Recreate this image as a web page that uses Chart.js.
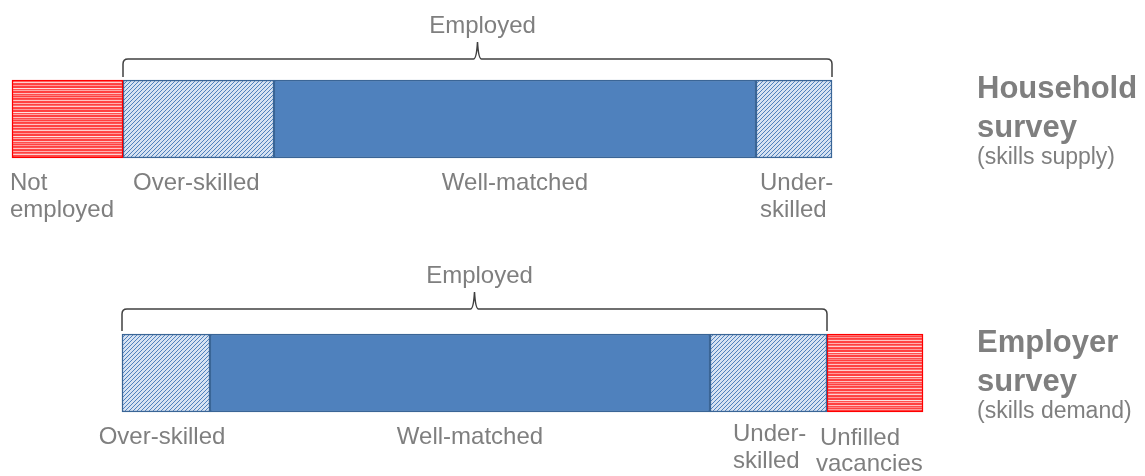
<!DOCTYPE html>
<html>
<head>
<meta charset="utf-8">
<script src="https://cdn.jsdelivr.net/npm/chart.js@4"></script>
<style>
  html, body { margin: 0; padding: 0; background: #fff; }
  #wrap { width: 1145px; height: 476px; position: relative; }
</style>
</head>
<body>
<div id="wrap"><canvas id="skills-chart"></canvas></div>
<script>
// rows of the diagram
const surveys = ["Household survey", "Employer survey"];
const surveyTitles = [["Household", "survey"], ["Employer", "survey"]];
const surveySubtitles = ["(skills supply)", "(skills demand)"];

// segment widths (same units for both bars)
const leadGap = [null, 110];
const notEmployed = [111, null];
const overSkilled = [151, 88];
const wellMatched = [482, 500];
const underSkilled = [76, 117];
const unfilledVacancies = [null, 96];

const GREY = "#7f7f7f";
const BLUE = "#4f81bd";
const BLUE_EDGE = "#3a6596";
const RED_EDGE = "#ff0000";

function hatchPattern() {
  const c = document.createElement("canvas");
  c.width = 4;
  c.height = 4;
  const g = c.getContext("2d");
  g.fillStyle = "#d6e2f2";
  g.fillRect(0, 0, 4, 4);
  g.strokeStyle = "#4f81bd";
  g.lineWidth = 1;
  g.beginPath();
  g.moveTo(-1, 5); g.lineTo(5, -1);
  g.moveTo(-1, 1); g.lineTo(1, -1);
  g.moveTo(3, 5); g.lineTo(5, 3);
  g.stroke();
  return g.createPattern(c, "repeat");
}

function stripePattern() {
  // uneven horizontal red / pink lines
  const rows = ["#ff4040", "#ff9a9a", "#ff4040", "#ff5050", "#ffc4c4", "#ff4444", "#ff4040", "#ffb0b0",
                "#ff4040", "#ff6a6a", "#ffd0d0", "#ff4848", "#ff4040", "#ff9a9a", "#ff4040", "#ff4040",
                "#ffe0e0", "#ff5050", "#ffa8a8", "#ff4040", "#ff4040", "#ffc0c0", "#ff4c4c", "#ff8080"];
  const c = document.createElement("canvas");
  c.width = 4;
  c.height = rows.length;
  const g = c.getContext("2d");
  rows.forEach((col, i) => {
    g.fillStyle = col;
    g.fillRect(0, i, 4, 1);
  });
  return g.createPattern(c, "repeat");
}

const hatch = hatchPattern();
const stripes = stripePattern();

function seg(label, data, fill, edge) {
  return {
    label: label,
    data: data,
    backgroundColor: fill,
    borderColor: edge,
    borderWidth: edge ? 1.5 : 0,
    borderSkipped: false,
    barThickness: 78,
    clip: false
  };
}

// braces, "Employed" captions, segment captions and row titles
const annotations = {
  id: "annotations",
  afterDatasetsDraw(chart) {
    const ctx = chart.ctx;
    const x = chart.scales.x;
    const y = chart.scales.y;
    const half = 39;
    ctx.save();
    ctx.textBaseline = "alphabetic";

    surveys.forEach((name, i) => {
      const lead = (leadGap[i] || 0) + (notEmployed[i] || 0);
      const x0 = x.getPixelForValue(lead);
      const x1 = x.getPixelForValue(lead + overSkilled[i] + wellMatched[i] + underSkilled[i]);
      const cy = y.getPixelForValue(i);
      const top = cy - half;
      const bottom = cy + half;
      const lineY = top - 21 - i * 4;
      const tipY = lineY - 17;
      const xm = (x0 + x1) / 2;
      const r = 5;

      // curly brace over the employed part
      ctx.strokeStyle = "#404040";
      ctx.lineWidth = 1.5;
      ctx.beginPath();
      ctx.moveTo(x0, top - 3);
      ctx.lineTo(x0, lineY + r);
      ctx.quadraticCurveTo(x0, lineY, x0 + r, lineY);
      ctx.lineTo(xm - 4, lineY);
      ctx.quadraticCurveTo(xm - 1, lineY, xm, tipY);
      ctx.quadraticCurveTo(xm + 1, lineY, xm + 4, lineY);
      ctx.lineTo(x1 - r, lineY);
      ctx.quadraticCurveTo(x1, lineY, x1, lineY + r);
      ctx.lineTo(x1, top - 3);
      ctx.stroke();

      ctx.fillStyle = GREY;
      ctx.font = "24px 'Liberation Sans', Arial, sans-serif";
      ctx.textAlign = "center";
      ctx.fillText("Employed", xm + 5, tipY - 9);

      // captions under the segments
      const over0 = x0;
      const over1 = x.getPixelForValue(lead + overSkilled[i]);
      const well1 = x.getPixelForValue(lead + overSkilled[i] + wellMatched[i]);
      const base = bottom + 32;
      ctx.textAlign = "left";
      if (notEmployed[i]) {
        ctx.fillText("Not", x.getPixelForValue(0) - 2, base);
        ctx.fillText("employed", x.getPixelForValue(0) - 2, base + 27);
        ctx.fillText("Over-skilled", over0 + 10, base);
        ctx.fillText("Under-", well1 + 4, base);
        ctx.fillText("skilled", well1 + 4, base + 27);
      } else {
        ctx.textAlign = "center";
        ctx.fillText("Over-skilled", (over0 + over1) / 2 - 4, base);
        ctx.textAlign = "left";
        ctx.fillText("Under-", well1 + 23, base - 3);
        ctx.fillText("skilled", well1 + 23, base + 24);
        ctx.fillText("Unfilled", x1 - 7, base + 1);
        ctx.fillText("vacancies", x1 - 11, base + 27);
      }
      ctx.textAlign = "center";
      ctx.fillText("Well-matched", (over1 + well1) / 2 + (i ? 10 : 0), base);

      // row titles on the right
      const tx = 977;
      ctx.textAlign = "left";
      ctx.font = "bold 31px 'Liberation Sans', Arial, sans-serif";
      ctx.fillText(surveyTitles[i][0], tx, cy - 21);
      ctx.fillText(surveyTitles[i][1], tx, cy + 18);
      ctx.font = "23px 'Liberation Sans', Arial, sans-serif";
      ctx.fillText(surveySubtitles[i], tx, cy + 45);
    });
    ctx.restore();
  }
};

const ctx = document.getElementById("skills-chart").getContext("2d");

new Chart(ctx, {
  type: "bar",
  data: {
    labels: surveys,
    datasets: [
      seg("Offset", leadGap, "rgba(0,0,0,0)", null),
      seg("Not employed", notEmployed, stripes, RED_EDGE),
      seg("Over-skilled", overSkilled, hatch, BLUE_EDGE),
      seg("Well-matched", wellMatched, BLUE, BLUE_EDGE),
      seg("Under-skilled", underSkilled, hatch, BLUE_EDGE),
      seg("Unfilled vacancies", unfilledVacancies, stripes, RED_EDGE)
    ]
  },
  options: {
    indexAxis: "y",
    responsive: true,
    maintainAspectRatio: false,
    animation: false,
    layout: {
      padding: { left: 12, right: 222, top: 119, bottom: 103 }
    },
    scales: {
      x: { stacked: true, min: 0, max: 911, display: false },
      y: { stacked: true, offset: false, display: false }
    },
    plugins: {
      legend: { display: false },
      tooltip: { enabled: false }
    }
  },
  plugins: [annotations]
});
</script>
</body>
</html>
